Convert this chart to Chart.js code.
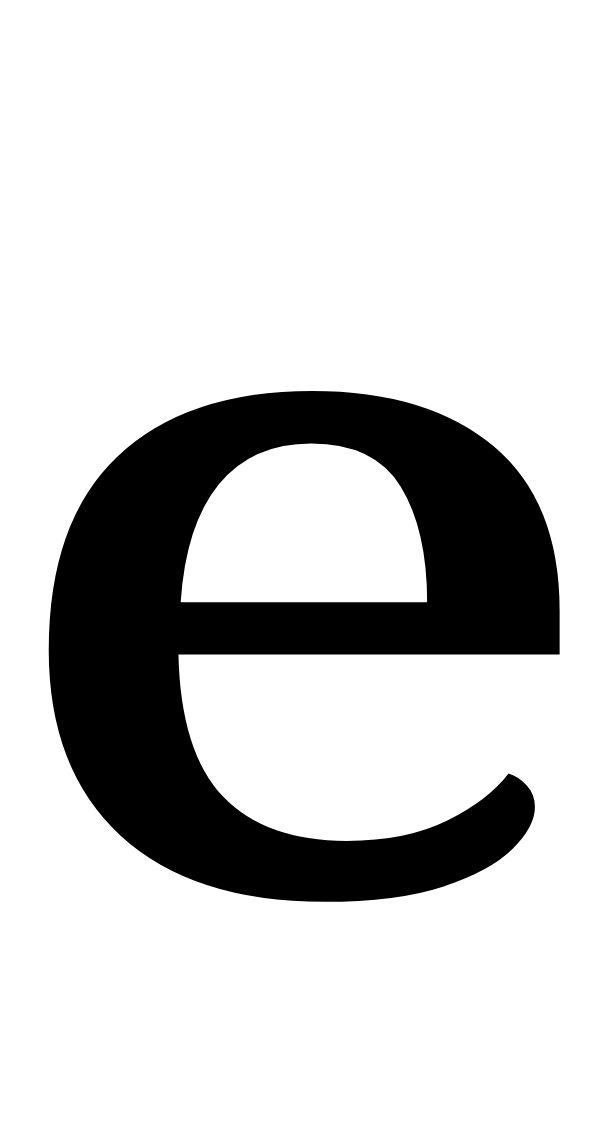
<!DOCTYPE html>
<html>
<head>
<meta charset="utf-8">
<script src="https://cdn.jsdelivr.net/npm/chart.js@4/dist/chart.umd.min.js"></script>
<style>
  html, body { margin: 0; padding: 0; background: #fff; }
  #wrap { width: 600px; height: 1128px; }
</style>
</head>
<body>
<div id="wrap"><canvas id="glyphChart"></canvas></div>
<script>
// Single category, the glyph itself
var labels = ['e'];
var values = [0];

// Ink box of the glyph in the reference: left, top, right, bottom
var glyphBox = [42, 391, 563, 907];

// Draws the category label as a big glyph, stretched to the box above
var glyphPlugin = {
    id: 'glyph',
    afterDraw: function(chart) {
        var ctx = chart.ctx;
        ctx.save();
        ctx.fillStyle = '#000';
        ctx.font = '500 900px "Noto Serif", "DejaVu Serif", serif';
        ctx.textAlign = 'left';
        ctx.textBaseline = 'alphabetic';
        chart.data.labels.forEach(function(label) {
            var m = ctx.measureText(label);
            var w = m.actualBoundingBoxLeft + m.actualBoundingBoxRight;
            var h = m.actualBoundingBoxAscent + m.actualBoundingBoxDescent;
            ctx.save();
            ctx.translate(glyphBox[0], glyphBox[1]);
            ctx.scale((glyphBox[2] - glyphBox[0]) / w, (glyphBox[3] - glyphBox[1]) / h);
            ctx.fillText(label, m.actualBoundingBoxLeft, m.actualBoundingBoxAscent);
            ctx.restore();
        });
        ctx.restore();
    }
};

new Chart(document.getElementById('glyphChart'), {
    type: 'bar',
    data: {
        labels: labels,
        datasets: [{ data: values, backgroundColor: 'rgba(0,0,0,0)' }]
    },
    options: {
        responsive: true,
        maintainAspectRatio: false,
        animation: false,
        layout: { padding: 0 },
        plugins: {
            legend: { display: false },
            tooltip: { enabled: false }
        },
        scales: {
            x: { display: false },
            y: { display: false }
        }
    },
    plugins: [glyphPlugin]
});
</script>
</body>
</html>
